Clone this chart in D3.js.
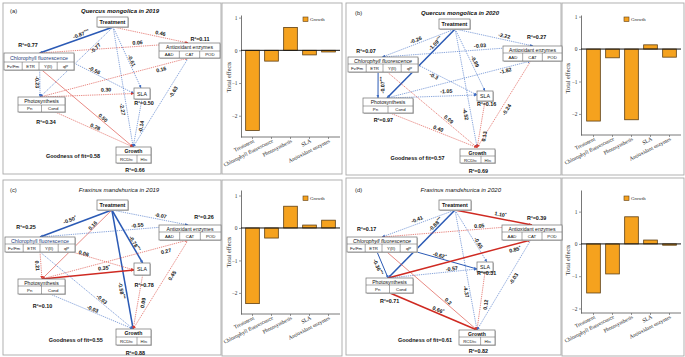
<!DOCTYPE html>
<html><head><meta charset="utf-8">
<script src="https://cdn.jsdelivr.net/npm/d3@7"></script>
<style>body{margin:0;background:#fff}svg{display:block}</style>
</head><body>
<svg id="c" width="685" height="357"></svg>
<script>
// ---------------- DATA ----------------
const effectCategories = ["Treatment","Chlorophyll fluorescence","Photosynthesis","SLA","Antioxidant enzymes"];
const effectsA = [-2.45,-0.33,0.70,-0.14,-0.05];
const effectsB = [-2.22,-0.27,-2.18,0.13,-0.25];
const effectsC = [-2.33,-0.31,0.67,0.09,0.24];
const effectsD = [-1.52,-0.93,0.84,0.12,-0.04];
const yTicks = [-2,-1,0,1];
const legendLabel = "Growth";

const panelLetters = ["(a)","(b)","(c)","(d)"];
const speciesNames = ["Quercus mongolica","Quercus mongolica","Fraxinus mandshurica","Fraxinus mandshurica"];
const years = ["2019","2020","2019","2020"];
const fitValues = ["0.58","0.57","0.55","0.61"];

const nodeKeys = ["T","C","A","P","S","G"];
const nodeNames = {T:"Treatment",C:"Chlorophyll fluorescence",A:"Antioxidant enzymes",P:"Photosynthesis",S:"SLA",G:"Growth"};
const nodeCells = {C:["Fv/Fm","ETR","Y(II)","qP"],A:["AAD","CAT","POD"],P:["Pn","Cond"],G:["RCD","H"]};
// R² for C, A, P, S, G
const r2A = ["0.77","0.11","0.34","0.50","0.66"];
const r2B = ["0.07","0.27","0.97","0.16","0.69"];
const r2C = ["0.25","0.26","0.10","0.78","0.88"];
const r2D = ["0.17","0.39","0.71","0.31","0.82"];

const pathFrom = ["T","T","T","C","T","T","C","C","P","P","C","P","S","A"];
const pathTo   = ["C","P","A","A","S","G","S","P","A","S","G","G","G","G"];
const coefA = ["-0.87***","-0.77","0.46","0.06","-0.61","-2.27","-0.56","-0.23","0.16","0.30","0.50","0.28","-0.14","-0.63"];
const coefB = ["-0.26","-1.09***","-2.22","-0.03","-0.89","-4.52","-0.3","-0.07***","-1.82","-1.05","0.09","0.40","0.13","-0.24"];
const coefC = ["-0.50*","0.16","-0.07","-0.55","-0.78***","-0.58***","0.06","0.21","0.27","0.35*","-0.03","-0.03","0.09","0.45"];
const coefD = ["-0.41","-0.88***","1.10*","0.05","-0.65","-4.37","-0.62*","-0.36***","0.85*","-0.57","0.2","0.66*","0.12","-0.03"];

// ---------------- LAYOUT ----------------
const layouts = [
 { diag:[3,3,218,171], bar:[222,3,120,171], letter:[10,10.5], title:[120,10.5], titleBold:true, chlColor:"#27407a",
   nodes:{T:[97,17,31,10,0],C:[4,53,70,17,9],A:[159,43,61,15,8],P:[18,97,47,15,8],S:[134,88,16,11,0],G:[116,147,35,16,8]},
   r2pos:[[28,45],[200,38.7],[46,122],[144,103],[135,169.5]], fit:[73,156],
   edges:[[[0.52,1],[0.51,0],0.42,4,"thickB"],[[0.52,1],[0.47,0],0.27,-3,"dotB"],[[0.52,1],[0.48,0],0.62,4,"dotR"],
          [[0.51,0],[0.48,0],0.66,4,"dotR"],[[0.52,1],[0.44,0],0.57,3,"dotB"],[[0.52,1],[0.49,0],0.68,-4,"dotB"],
          [[1,0.59],[0,0.5],0.32,3,"dotB"],[[0.51,1],[0.47,0],0.45,-2.5,"dotB"],[[0.47,0],[0.48,1],0.81,-4,"dotR"],
          [[0.5,0],[0,0.5],0.7,5,"dotR"],[[0.54,1],[0.49,0],0.65,3,"thinR"],[[0.79,1],[0.49,0],0.5,3,"dotR"],
          [[0.5,1],[0.49,0],0.56,-4,"dotB"],[[0.48,1],[0.49,0],0.35,-5,"dotB"]],
   yDomain:[-2.65,1.08], yRange:[137,15], axisX:241, xRange:[243,338], legend:[303,17], ylab:[228,77] },
 { diag:[346,3,215,172], bar:[562,3,122,172], letter:[355,12.8], title:[460,12.8], titleBold:true, chlColor:"#111",
   nodes:{T:[439,19,31,10,0],C:[348,57,70,15,7],A:[503,46,59,15,7],P:[363,98,50,15,8],S:[477,91,16,10,0],G:[460,149,35,14,7]},
   r2pos:[[366,51],[536.7,37.3],[383.3,120.3],[486.7,104],[478.3,170.8]], fit:[417.5,158.3],
   edges:[[[0.52,1],[0.49,0],0.52,4,"dotB"],[[0.52,1],[0.48,0],0.25,4,"thickB"],[[0.52,1],[0.51,0],0.62,4,"dotB"],
          [[0.49,0],[0.51,0],0.65,4.5,"dotB"],[[0.52,1],[0.5,0],0.55,4,"dotB"],[[0.52,1],[0.49,-0.1],0.71,-5,"dotB"],
          [[1,0.53],[0,0.4],0.29,-2.5,"dotB"],[[0.43,1],[0.3,0],0.5,-4.5,"medB"],[[0.48,0],[0.47,1],0.82,-3,"dotB"],
          [[0.48,0],[0,0.4],0.66,5,"dotB"],[[0.56,1],[0.49,-0.1],0.66,3.5,"dotR"],[[0.54,1],[0.49,-0.1],0.54,3.5,"dotR"],
          [[0.5,1],[0.49,-0.1],0.74,-5,"dotR"],[[0.47,1],[0.49,-0.1],0.53,-5,"dotR"]],
   yDomain:[-2.65,1.05], yRange:[135,15], axisX:581, xRange:[584,679], legend:[624,17], ylab:[567,78] },
 { diag:[3,180,218,175], bar:[222,180,120,176], letter:[10,190.3], title:[119,190.3], titleBold:false, chlColor:"#27407a",
   nodes:{T:[97,200,31,10,0],C:[5,237,70,15,7],A:[159,225,62,15,7],P:[18,279,47,15,7],S:[134,263,16,12,0],G:[116,329,35,16,8]},
   r2pos:[[26,227.2],[204,216.7],[42.5,306.3],[144.2,284.5],[135.3,352.5]], fit:[75.8,339.8],
   edges:[[[0.48,1],[0.5,0],0.56,5.5,"thickB"],[[0.48,1],[0.51,0],0.25,2.5,"thinR"],[[0.48,1],[0.47,0],0.63,4,"dotB"],
          [[0.5,0],[0.47,0],0.66,4,"dotB"],[[0.48,1],[0.54,0],0.66,3,"thickB"],[[0.48,1],[0.49,0],0.67,-4.5,"thickB"],
          [[0.96,1],[0,0.58],0.18,2,"dotR"],[[0.5,1],[0.51,0],0.5,-3.5,"dotR"],[[0.51,0],[0.47,1],0.84,-5,"dotR"],
          [[0.51,0],[0,0.58],0.68,5,"thickR"],[[0.5,1],[0.49,0],0.645,3,"dotB"],[[0.68,1],[0.49,0],0.5,3,"dotB"],
          [[0.54,1],[0.49,0],0.5,-5,"dotR"],[[0.47,1],[0.49,0],0.37,-5,"dotR"]],
   yDomain:[-2.65,1.17], yRange:[314,190], axisX:241, xRange:[243,338], legend:[303,196], ylab:[228,252] },
 { diag:[346,178,215,177], bar:[562,178,122,178], letter:[355,190.3], title:[460.8,190.3], titleBold:false, chlColor:"#111",
   nodes:{T:[439,200,32,10,0],C:[347,237,70,15,7],A:[502,225,60,15,7],P:[366,278,47,15,7],S:[477,262,16,10,0],G:[459,330,36,15,7]},
   r2pos:[[366.7,228.8],[536.7,217.8],[389.7,300.8],[486.7,273.2],[478.3,350.8]], fit:[425,339.8],
   edges:[[[0.5,1],[0.5,0],0.5,4.5,"dotB"],[[0.5,1],[0.47,0],0.25,4,"thickB"],[[0.5,1],[0.5,0],0.58,4.5,"thickR"],
          [[0.5,0],[0.5,0],0.65,3.5,"dotR"],[[0.5,1],[0.62,0],0.66,3,"dotB"],[[0.5,1],[0.5,0],0.675,-3.5,"dotB"],
          [[0.9,0.87],[0,0.7],0.43,3,"medB"],[[0.43,1],[0.47,0],0.5,-5,"medB"],[[0.47,0],[0.48,1],0.88,-5,"thickR"],
          [[0.47,0],[0,0.7],0.72,3,"dotB"],[[0.57,1],[0.5,0],0.66,3,"thinR"],[[0.51,1],[0.5,0],0.54,3.5,"thickR"],
          [[0.5,1],[0.5,0],0.55,-5,"dotR"],[[0.48,1],[0.5,0],0.4,-5,"dotB"]],
   yDomain:[-2.14,1.67], yRange:[313,190], axisX:581, xRange:[584,679], legend:[624,196], ylab:[567,260] }
];
const effectsAll = [effectsA,effectsB,effectsC,effectsD];
const coefAll = [coefA,coefB,coefC,coefD];
const r2All = [r2A,r2B,r2C,r2D];
const r2Keys = ["C","A","P","S","G"];
const cellFr = {C:[0,0.26,0.5,0.76,1],A:[0,1/3,2/3,1],P:[0,0.5,1],G:[0,0.6,1]};

const SANS = "'Liberation Sans', Arial, sans-serif";
const SERIF = "'Liberation Serif', 'Times New Roman', serif";
const colBlue = "#3d6cc4", colBlueDark = "#2b5ab5", colRed = "#d83a30";
const styles = {
  thickB:{c:colBlueDark,w:1.5,dash:null,m:"B"}, medB:{c:colBlueDark,w:1.0,dash:null,m:"B"},
  dotB:{c:colBlue,w:0.6,dash:"1.3,0.9",m:"B"}, thickR:{c:"#cf2a22",w:1.5,dash:null,m:"R"},
  thinR:{c:colRed,w:0.6,dash:null,m:"R"}, dotR:{c:colRed,w:0.6,dash:"1.3,0.9",m:"R"}
};
const barFill = "#F5A21E", barStroke = "#5e3f14";

const svg = d3.select("#c");
const defs = svg.append("defs");
[["B",colBlue],["R",colRed]].forEach(([k,c])=>{
  defs.append("marker").attr("id","arr"+k).attr("viewBox","0 0 10 10").attr("refX",10).attr("refY",5)
    .attr("markerWidth",3.5).attr("markerHeight",3).attr("markerUnits","userSpaceOnUse").attr("orient","auto")
    .append("path").attr("d","M0,0L10,5L0,10z").attr("fill",c);
});

function nodeScales(n){
  return {x:d3.scaleLinear().domain([0,1]).range([n[0],n[0]+n[2]]),
          y:d3.scaleLinear().domain([0,1]).range([n[1],n[1]+n[3]])};
}
function addLabel(sel, txt, size){
  const m = txt.match(/^([^*]*)(\**)$/);
  sel.text(null);
  sel.append("tspan").text(m[1]);
  if(m[2]) sel.append("tspan").attr("font-size",size*0.75).attr("dy",-size*0.35).text(m[2]);
}

layouts.forEach((L,pi)=>{
  const g = svg.append("g");
  g.append("rect").attr("x",L.diag[0]).attr("y",L.diag[1]).attr("width",L.diag[2]).attr("height",L.diag[3])
    .attr("fill","none").attr("stroke","#a8a8a8").attr("stroke-width",0.9);
  g.append("rect").attr("x",L.bar[0]).attr("y",L.bar[1]).attr("width",L.bar[2]).attr("height",L.bar[3])
    .attr("fill","none").attr("stroke","#a8a8a8").attr("stroke-width",0.9);
  g.append("text").attr("x",L.letter[0]).attr("y",L.letter[1]).attr("dominant-baseline","central")
    .attr("font-family",SANS).attr("font-size",5.8).attr("fill","#222").text(panelLetters[pi]);
  g.append("text").attr("x",L.title[0]).attr("y",L.title[1]).attr("text-anchor","middle").attr("dominant-baseline","central")
    .attr("font-family",SANS).attr("font-size",6).attr("font-style","italic").attr("font-weight",L.titleBold?"bold":"normal")
    .attr("fill","#111").text(`${speciesNames[pi]} in ${years[pi]}`);

  const sc = {};
  nodeKeys.forEach(k=>sc[k]=nodeScales(L.nodes[k]));
  const pt = (k,a)=>[sc[k].x(a[0]), sc[k].y(a[1])];

  const edges = pathFrom.map((f,i)=>({f, t:pathTo[i], lab:coefAll[pi][i], lay:L.edges[i]}));
  const eg = g.append("g");
  edges.forEach(e=>{
    const st = styles[e.lay[4]];
    const [x1,y1] = pt(e.f,e.lay[0]), [x2,y2] = pt(e.t,e.lay[1]);
    const ln = eg.append("line").attr("x1",x1).attr("y1",y1).attr("x2",x2).attr("y2",y2)
      .attr("stroke",st.c).attr("stroke-width",st.w).attr("marker-end",`url(#arr${st.m})`);
    if(st.dash) ln.attr("stroke-dasharray",st.dash);
    e.geo = [x1,y1,x2,y2];
  });
  nodeKeys.forEach(k=>{
    const n = L.nodes[k], s = sc[k];
    const ng = g.append("g");
    ng.append("rect").attr("x",n[0]+0.9).attr("y",n[1]+0.9).attr("width",n[2]).attr("height",n[3]).attr("fill","#bdbdbd");
    ng.append("rect").attr("x",n[0]).attr("y",n[1]).attr("width",n[2]).attr("height",n[3])
      .attr("fill","#fff").attr("stroke","#6f6f6f").attr("stroke-width",0.7);
    if(nodeCells[k]){
      const hh = n[4];
      ng.append("line").attr("x1",n[0]).attr("x2",n[0]+n[2]).attr("y1",n[1]+hh).attr("y2",n[1]+hh).attr("stroke","#6f6f6f").attr("stroke-width",0.6);
      ng.append("text").attr("x",s.x(0.5)).attr("y",n[1]+hh/2+0.2).attr("text-anchor","middle").attr("dominant-baseline","central")
        .attr("font-family",SANS).attr("font-size",k==="C"?5.3:5.1).attr("fill",k==="C"?L.chlColor:"#111")
        .attr("font-style",(k==="C"&&pi%2===1)?"italic":"normal").attr("font-weight",k==="G"?"bold":"normal").text(nodeNames[k]);
      const fr = cellFr[k];
      nodeCells[k].forEach((c,ci)=>{
        if(ci>0) ng.append("line").attr("x1",s.x(fr[ci])).attr("x2",s.x(fr[ci])).attr("y1",n[1]+hh).attr("y2",n[1]+n[3]).attr("stroke","#6f6f6f").attr("stroke-width",0.6);
        const tx = ng.append("text").attr("x",(s.x(fr[ci])+s.x(fr[ci+1]))/2).attr("y",n[1]+hh+(n[3]-hh)/2+0.2)
          .attr("text-anchor","middle").attr("dominant-baseline","central").attr("font-family",SANS).attr("font-size",4.3).attr("fill","#111");
        if(k==="G"){ tx.append("tspan").text(c); tx.append("tspan").attr("font-size",2.8).attr("dy",1.1).text("Inc"); }
        else tx.text(c);
      });
    } else {
      ng.append("text").attr("x",s.x(0.5)).attr("y",s.y(0.5)+0.2).attr("text-anchor","middle").attr("dominant-baseline","central")
        .attr("font-family",SANS).attr("font-size",k==="T"?5.4:5.2).attr("font-weight",k==="T"?"bold":"normal").attr("fill","#111").text(nodeNames[k]);
    }
  });
  edges.forEach(e=>{
    const [x1,y1,x2,y2] = e.geo;
    let ang = Math.atan2(y2-y1,x2-x1)*180/Math.PI;
    if(ang>90) ang-=180; if(ang<-90) ang+=180;
    const r = ang*Math.PI/180;
    const t = e.lay[2], d = e.lay[3];
    const lx = x1+(x2-x1)*t + d*Math.sin(r), ly = y1+(y2-y1)*t - d*Math.cos(r);
    const tx = g.append("text").attr("transform",`translate(${lx},${ly}) rotate(${ang})`)
      .attr("text-anchor","middle").attr("dominant-baseline","central")
      .attr("font-family",SANS).attr("font-size",5.3).attr("font-weight","600").attr("fill","#151515");
    addLabel(tx, e.lab, 5.3);
  });
  r2Keys.forEach((k,i)=>{
    g.append("text").attr("x",L.r2pos[i][0]).attr("y",L.r2pos[i][1]).attr("text-anchor","middle").attr("dominant-baseline","central")
      .attr("font-family",SANS).attr("font-size",5.4).attr("font-weight","600").attr("fill","#111").text(`R²=${r2All[pi][i]}`);
  });
  g.append("text").attr("x",L.fit[0]).attr("y",L.fit[1]).attr("text-anchor","middle").attr("dominant-baseline","central")
    .attr("font-family",SANS).attr("font-size",5.5).attr("font-weight","600").attr("fill","#111").text(`Goodness of fit=${fitValues[pi]}`);

  // ---- bar chart ----
  const vals = effectsAll[pi];
  const x = d3.scaleBand().domain(effectCategories).range(L.xRange).paddingInner(0.28).paddingOuter(0.14);
  const y = d3.scaleLinear().domain(L.yDomain).range(L.yRange);
  const bg = g.append("g");
  const ya = bg.append("g").attr("transform",`translate(${L.axisX},0)`)
    .call(d3.axisLeft(y).tickValues(yTicks).tickSize(2).tickSizeOuter(0).tickFormat(d3.format("d")));
  ya.select(".domain").attr("stroke","#555").attr("stroke-width",0.8);
  ya.selectAll(".tick line").attr("stroke","#555").attr("stroke-width",0.6);
  ya.selectAll(".tick text").attr("font-family",SERIF).attr("font-size",5.4).attr("fill","#333").attr("x",-3.5);
  const xa = bg.append("g").attr("transform",`translate(0,${L.yRange[0]})`)
    .call(d3.axisBottom(x).tickSize(2).tickSizeOuter(0));
  xa.select(".domain").remove();
  bg.append("line").attr("x1",L.axisX).attr("x2",L.xRange[1]+2).attr("y1",L.yRange[0]).attr("y2",L.yRange[0]).attr("stroke","#555").attr("stroke-width",0.8);
  xa.selectAll(".tick line").attr("stroke","#555").attr("stroke-width",0.6);
  xa.selectAll(".tick text").attr("x",0).attr("y",0).attr("dy",0).attr("transform","translate(2,5) rotate(-27)")
    .attr("text-anchor","end").attr("font-family",SERIF).attr("font-size",5.4).attr("fill","#111");
  bg.selectAll("rect.bar").data(effectCategories.map((c,i)=>({c,v:vals[i]}))).join("rect").attr("class","bar")
    .attr("x",d=>x(d.c)).attr("width",x.bandwidth())
    .attr("y",d=>y(Math.max(0,d.v))).attr("height",d=>Math.abs(y(d.v)-y(0)))
    .attr("fill",barFill).attr("stroke",barStroke).attr("stroke-width",0.8);
  bg.append("line").attr("x1",L.axisX).attr("x2",L.xRange[1]+2).attr("y1",y(0)).attr("y2",y(0)).attr("stroke","#111").attr("stroke-width",1);
  bg.append("text").attr("transform",`translate(${L.ylab[0]},${L.ylab[1]}) rotate(-90)`).attr("text-anchor","middle")
    .attr("dominant-baseline","central").attr("font-family",SERIF).attr("font-size",6.2).attr("fill","#333").text("Total effects");
  bg.append("rect").attr("x",L.legend[0]).attr("y",L.legend[1]).attr("width",5).attr("height",4.5)
    .attr("fill",barFill).attr("stroke",barStroke).attr("stroke-width",0.6);
  bg.append("text").attr("x",L.legend[0]+7).attr("y",L.legend[1]+2.4).attr("dominant-baseline","central")
    .attr("font-family",SERIF).attr("font-size",4.8).attr("fill","#222").text(legendLabel);
});
</script>
</body></html>
